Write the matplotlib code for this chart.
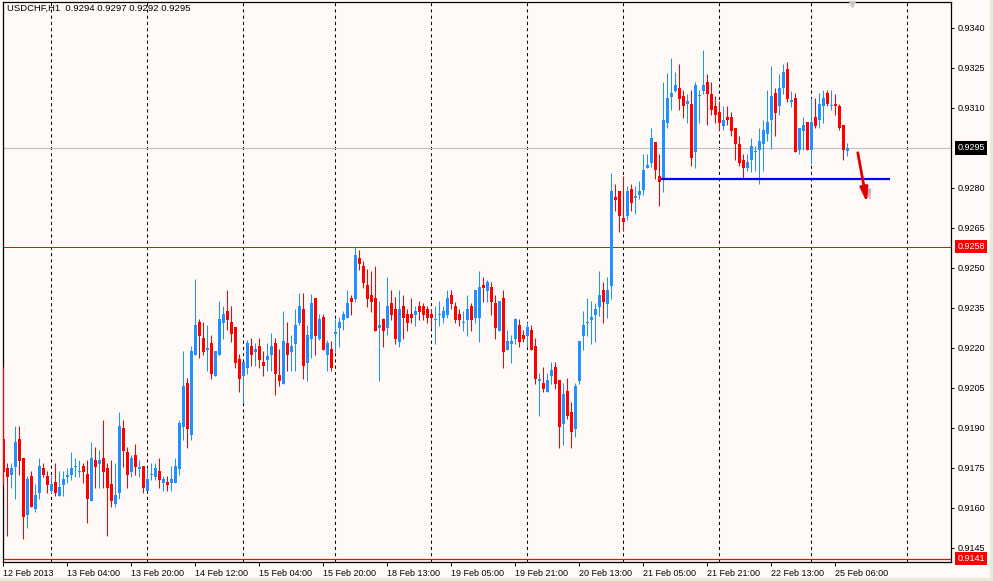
import numpy as np
import matplotlib
matplotlib.use("Agg")
import matplotlib.pyplot as plt
import matplotlib.patheffects as pe
from matplotlib.patches import Rectangle

title_text = "USDCHF,H1  0.9294 0.9297 0.9292 0.9295"

# hourly bars, 12 Feb 2013 12:00 ... 25 Feb 2013 09:00
opens = [
    0.91859, 0.91750, 0.91725, 0.91755, 0.91859, 0.91788, 0.91575, 0.91720, 0.91598, 0.91658,
    0.91750, 0.91720, 0.91665, 0.91698, 0.91646, 0.91688, 0.91718, 0.91725, 0.91755, 0.91736,
    0.91758, 0.91728, 0.91628, 0.91780, 0.91766, 0.91788, 0.91750, 0.91690, 0.91616, 0.91658,
    0.91900, 0.91810, 0.91736, 0.91799, 0.91748, 0.91758, 0.91665, 0.91725, 0.91718, 0.91739,
    0.91695, 0.91698, 0.91695, 0.91695, 0.91746, 0.91904, 0.92069, 0.91874, 0.92174, 0.92298,
    0.92238, 0.92194, 0.92219, 0.92096, 0.92174, 0.92295, 0.92339, 0.92298, 0.92279, 0.92159,
    0.92096, 0.92126, 0.92208, 0.92186, 0.92208, 0.92148, 0.92156, 0.92174, 0.92219, 0.92099,
    0.92066, 0.92219, 0.92186, 0.92216, 0.92295, 0.92346, 0.92145, 0.92235, 0.92388, 0.92235,
    0.92316, 0.92174, 0.92196, 0.92254, 0.92275, 0.92305, 0.92313, 0.92388, 0.92384, 0.92538,
    0.92508, 0.92436, 0.92399, 0.92388, 0.92275, 0.92309, 0.92275, 0.92369, 0.92346, 0.92224,
    0.92358, 0.92328, 0.92328, 0.92324, 0.92358, 0.92358, 0.92346, 0.92328, 0.92305, 0.92324,
    0.92313, 0.92324, 0.92399, 0.92358, 0.92328, 0.92295, 0.92305, 0.92358, 0.92313, 0.92313,
    0.92436, 0.92414, 0.92429, 0.92369, 0.92264, 0.92388, 0.92194, 0.92216, 0.92234, 0.92286,
    0.92249, 0.92246, 0.92268, 0.92208, 0.92078, 0.92069, 0.92036, 0.92096, 0.92129, 0.92080,
    0.91916, 0.92040, 0.91960, 0.91898, 0.92078, 0.92246, 0.92295, 0.92306, 0.92325, 0.92355,
    0.92418, 0.92366, 0.92434, 0.92766, 0.92789, 0.92688, 0.92696, 0.92796, 0.92764, 0.92775,
    0.92793, 0.92873, 0.92895, 0.92971, 0.92845, 0.92835, 0.93045, 0.93140, 0.93164, 0.93175,
    0.93145, 0.93114, 0.93115, 0.92933, 0.93144, 0.93164, 0.93198, 0.93153, 0.93108, 0.93085,
    0.93033, 0.93066, 0.93066, 0.93025, 0.92963, 0.92905, 0.92873, 0.92903, 0.92934, 0.92943,
    0.92963, 0.93003, 0.93053, 0.93156, 0.93108, 0.93173, 0.93246, 0.93124, 0.93138, 0.92943,
    0.93015, 0.93048, 0.92943, 0.93065, 0.93053, 0.93108, 0.93155, 0.93106, 0.93115, 0.93108,
    0.93036, 0.92940,
]
highs = [
    0.92130, 0.91770, 0.91770, 0.91909, 0.91909, 0.91788, 0.91720, 0.91739, 0.91690, 0.91788,
    0.91769, 0.91739, 0.91725, 0.91769, 0.91739, 0.91739, 0.91750, 0.91810, 0.91788, 0.91780,
    0.91769, 0.91780, 0.91848, 0.91829, 0.91818, 0.91930, 0.91769, 0.91780, 0.91769, 0.91960,
    0.91930, 0.91829, 0.91799, 0.91840, 0.91780, 0.91758, 0.91750, 0.91769, 0.91769, 0.91788,
    0.91720, 0.91720, 0.91758, 0.91788, 0.91930, 0.92189, 0.92088, 0.92208, 0.92459, 0.92309,
    0.92298, 0.92286, 0.92249, 0.92189, 0.92376, 0.92358, 0.92418, 0.92358, 0.92279, 0.92178,
    0.92149, 0.92230, 0.92238, 0.92219, 0.92238, 0.92189, 0.92219, 0.92256, 0.92238, 0.92196,
    0.92339, 0.92298, 0.92249, 0.92346, 0.92406, 0.92406, 0.92286, 0.92403, 0.92388, 0.92328,
    0.92328, 0.92230, 0.92226, 0.92309, 0.92316, 0.92339, 0.92418, 0.92399, 0.92580, 0.92568,
    0.92526, 0.92496, 0.92489, 0.92508, 0.92376, 0.92313, 0.92466, 0.92418, 0.92391, 0.92418,
    0.92399, 0.92346, 0.92388, 0.92358, 0.92376, 0.92369, 0.92358, 0.92346, 0.92358, 0.92376,
    0.92358, 0.92418, 0.92418, 0.92373, 0.92346, 0.92339, 0.92399, 0.92369, 0.92418, 0.92489,
    0.92466, 0.92455, 0.92448, 0.92399, 0.92376, 0.92418, 0.92268, 0.92249, 0.92313, 0.92309,
    0.92268, 0.92298, 0.92286, 0.92238, 0.92106, 0.92129, 0.92106, 0.92148, 0.92148, 0.92080,
    0.92069, 0.92088, 0.91998, 0.92069, 0.92226, 0.92339, 0.92388, 0.92376, 0.92369, 0.92489,
    0.92448, 0.92466, 0.92856, 0.92815, 0.92789, 0.92845, 0.92808, 0.92815, 0.92808, 0.92826,
    0.92928, 0.92928, 0.93024, 0.92971, 0.92928, 0.93198, 0.93230, 0.93288, 0.93235, 0.93265,
    0.93168, 0.93153, 0.93168, 0.93198, 0.93168, 0.93318, 0.93228, 0.93198, 0.93145, 0.93126,
    0.93108, 0.93108, 0.93085, 0.93025, 0.92993, 0.92928, 0.92928, 0.92988, 0.92958, 0.93025,
    0.93055, 0.93168, 0.93258, 0.93175, 0.93228, 0.93265, 0.93273, 0.93164, 0.93155, 0.93025,
    0.93066, 0.93048, 0.93138, 0.93138, 0.93155, 0.93168, 0.93168, 0.93168, 0.93153, 0.93115,
    0.93036, 0.92970,
]
lows = [
    0.91686, 0.91496, 0.91676, 0.91634, 0.91725, 0.91483, 0.91526, 0.91605, 0.91586, 0.91634,
    0.91718, 0.91658, 0.91658, 0.91646, 0.91646, 0.91646, 0.91695, 0.91706, 0.91718, 0.91718,
    0.91695, 0.91545, 0.91628, 0.91676, 0.91676, 0.91676, 0.91496, 0.91605, 0.91605, 0.91634,
    0.91755, 0.91676, 0.91718, 0.91725, 0.91718, 0.91658, 0.91665, 0.91706, 0.91706, 0.91676,
    0.91665, 0.91665, 0.91665, 0.91695, 0.91724, 0.91855, 0.91825, 0.91855, 0.92174, 0.92164,
    0.92174, 0.92115, 0.92085, 0.92096, 0.92174, 0.92235, 0.92268, 0.92224, 0.92126, 0.92036,
    0.91995, 0.92104, 0.92134, 0.92134, 0.92126, 0.92096, 0.92115, 0.92115, 0.92025, 0.92059,
    0.92066, 0.92115, 0.92115, 0.92115, 0.92286, 0.92085, 0.92078, 0.92164, 0.92174, 0.92230,
    0.92194, 0.92115, 0.92115, 0.92186, 0.92205, 0.92268, 0.92313, 0.92324, 0.92373, 0.92493,
    0.92425, 0.92354, 0.92335, 0.92264, 0.92078, 0.92205, 0.92249, 0.92305, 0.92216, 0.92205,
    0.92234, 0.92264, 0.92294, 0.92283, 0.92305, 0.92305, 0.92294, 0.92275, 0.92216, 0.92283,
    0.92294, 0.92313, 0.92346, 0.92294, 0.92283, 0.92264, 0.92246, 0.92264, 0.92294, 0.92224,
    0.92373, 0.92373, 0.92324, 0.92234, 0.92264, 0.92126, 0.92194, 0.92145, 0.92216, 0.92205,
    0.92224, 0.92205, 0.92194, 0.92066, 0.91946, 0.92036, 0.92036, 0.92065, 0.92046, 0.91826,
    0.91838, 0.91935, 0.91826, 0.91868, 0.92066, 0.92194, 0.92246, 0.92216, 0.92224, 0.92318,
    0.92295, 0.92314, 0.92385, 0.92714, 0.92636, 0.92639, 0.92680, 0.92714, 0.92704, 0.92760,
    0.92775, 0.92873, 0.92880, 0.92835, 0.92734, 0.92786, 0.93024, 0.93093, 0.93160, 0.93093,
    0.93064, 0.93044, 0.92884, 0.92873, 0.93044, 0.93153, 0.93036, 0.93074, 0.93044, 0.93018,
    0.93018, 0.93036, 0.92993, 0.92903, 0.92884, 0.92835, 0.92864, 0.92861, 0.92865, 0.92813,
    0.92865, 0.92975, 0.92945, 0.92993, 0.93074, 0.93153, 0.93123, 0.93105, 0.92933, 0.92926,
    0.92943, 0.92943, 0.92890, 0.93023, 0.93023, 0.93044, 0.93108, 0.93093, 0.93074, 0.93018,
    0.92903, 0.92920,
]
closes = [
    0.91736, 0.91718, 0.91750, 0.91848, 0.91778, 0.91568, 0.91709, 0.91605, 0.91649, 0.91758,
    0.91725, 0.91688, 0.91690, 0.91658, 0.91679, 0.91709, 0.91720, 0.91750, 0.91758, 0.91739,
    0.91736, 0.91634, 0.91788, 0.91755, 0.91780, 0.91736, 0.91676, 0.91628, 0.91649, 0.91909,
    0.91815, 0.91725, 0.91788, 0.91755, 0.91750, 0.91676, 0.91709, 0.91728, 0.91750, 0.91706,
    0.91709, 0.91686, 0.91709, 0.91758, 0.91919, 0.92058, 0.91896, 0.92189, 0.92286, 0.92246,
    0.92186, 0.92196, 0.92104, 0.92189, 0.92309, 0.92328, 0.92306, 0.92254, 0.92145, 0.92085,
    0.92148, 0.92219, 0.92174, 0.92196, 0.92153, 0.92134, 0.92168, 0.92208, 0.92104, 0.92078,
    0.92226, 0.92174, 0.92208, 0.92286, 0.92358, 0.92134, 0.92249, 0.92369, 0.92246, 0.92309,
    0.92194, 0.92219, 0.92126, 0.92256, 0.92298, 0.92328, 0.92369, 0.92373, 0.92549, 0.92515,
    0.92444, 0.92384, 0.92373, 0.92264, 0.92286, 0.92264, 0.92358, 0.92324, 0.92234, 0.92346,
    0.92313, 0.92294, 0.92313, 0.92339, 0.92335, 0.92324, 0.92313, 0.92313, 0.92309, 0.92328,
    0.92339, 0.92388, 0.92365, 0.92305, 0.92305, 0.92299, 0.92346, 0.92305, 0.92418, 0.92429,
    0.92425, 0.92448, 0.92373, 0.92275, 0.92376, 0.92186, 0.92226, 0.92226, 0.92309, 0.92224,
    0.92234, 0.92279, 0.92194, 0.92085, 0.92080, 0.92046, 0.92080, 0.92118, 0.92066, 0.91905,
    0.92028, 0.91946, 0.91886, 0.92058, 0.92226, 0.92286, 0.92298, 0.92316, 0.92346, 0.92399,
    0.92374, 0.92418, 0.92789, 0.92756, 0.92696, 0.92674, 0.92789, 0.92745, 0.92766, 0.92789,
    0.92868, 0.92885, 0.92988, 0.92868, 0.92824, 0.93055, 0.93138, 0.93155, 0.93186, 0.93135,
    0.93108, 0.93126, 0.92914, 0.93186, 0.93146, 0.93186, 0.93153, 0.93093, 0.93074, 0.93045,
    0.93055, 0.93055, 0.93015, 0.92963, 0.92895, 0.92876, 0.92898, 0.92958, 0.92936, 0.92976,
    0.93018, 0.93048, 0.93145, 0.93081, 0.93175, 0.93235, 0.93134, 0.93126, 0.92933, 0.93025,
    0.93036, 0.92943, 0.93048, 0.93034, 0.93115, 0.93138, 0.93114, 0.93109, 0.93108, 0.93023,
    0.92944, 0.92950,
]

tick_bars = [0, 16, 32, 48, 64, 80, 96, 112, 128, 144, 160, 176, 192, 208]
tick_labels = ["12 Feb 2013", "13 Feb 04:00", "13 Feb 20:00", "14 Feb 12:00",
               "15 Feb 04:00", "15 Feb 20:00", "18 Feb 13:00", "19 Feb 05:00",
               "19 Feb 21:00", "20 Feb 13:00", "21 Feb 05:00", "21 Feb 21:00",
               "22 Feb 13:00", "25 Feb 06:00"]
day_bars = [12, 36, 60, 83, 107, 131, 155, 179, 202, 226]
price_ticks = [0.9145, 0.9160, 0.9175, 0.9190, 0.9205, 0.9220, 0.9235,
               0.9250, 0.9265, 0.9280, 0.9310, 0.9325, 0.9340]

bid_price = 0.9295
red_level = 0.9258
low_level = 0.9141
support_level = 0.92835
support_span = (164.5, 221.7)
arrow_start = (213.6, 0.92932)
arrow_end = (215.9, 0.92744)

BG = "#fffaf8"
BULL = "#1e90ff"
BEAR = "#ff0000"

plt.rcParams['font.family'] = ['Liberation Sans', 'DejaVu Sans']
plt.rcParams['font.size'] = 6.5

fig = plt.figure(figsize=(9.93, 5.81), dpi=100, facecolor=BG)
W, H = 993.0, 581.0
ax = fig.add_axes([2.5 / W, 1 - 562 / H, (951 - 2.5) / W, (562 - 1.5) / H])
ax.set_facecolor(BG)

o = np.array(opens)
h = np.array(highs)
l = np.array(lows)
c = np.array(closes)
x = np.arange(len(o))
up = c >= o
cols = np.where(up, BULL, BEAR)

# grid: dashed day separators
for d in day_bars:
    ax.axvline(d, color="black", lw=0.75, ls=(0, (3, 3)), zorder=1)

ax.axhline(bid_price, color="#c0c0c0", lw=0.8, zorder=1)
ax.axhline(red_level, color="#ff0000", lw=0.7, zorder=1)
ax.axhline(low_level, color="#ff0000", lw=0.9, zorder=1)

ax.vlines(x, l, h, colors=cols, lw=0.75, zorder=3)
body_bottom = np.minimum(o, c)
body_height = np.maximum(np.abs(c - o), 0.00004)
ax.bar(x, body_height, bottom=body_bottom, width=0.75, color=cols,
       linewidth=0, zorder=4)

ax.hlines(support_level, support_span[0], support_span[1], color="#0000ff",
          lw=1.6, zorder=5)

ax.annotate("", xy=arrow_end, xytext=arrow_start,
            arrowprops=dict(arrowstyle="-|>,head_length=1.3,head_width=0.35",
                            color="#e00000", lw=2.0, shrinkA=0, shrinkB=0,
                            path_effects=[pe.SimplePatchShadow(offset=(3, -2),
                                                               alpha=0.3),
                                          pe.Normal()]),
            zorder=6)

ax.set_xlim(-0.2, 236.9)
ax.set_ylim(0.913975, 0.93499)

ax.yaxis.tick_right()
ax.set_yticks(price_ticks)
ax.set_yticklabels(["%.4f" % p for p in price_ticks])
ax.tick_params(axis="y", direction="out", length=2.5, width=0.7, pad=2.5,
               colors="black")

ax.set_xticks(tick_bars)
ax.set_xticklabels(tick_labels, ha="left")
ax.tick_params(axis="x", direction="out", length=3, width=0.7, pad=2,
               colors="black")

for sp in ax.spines.values():
    sp.set_color("black")
    sp.set_linewidth(0.9)

# price labels on the right scale
trans = ax.get_yaxis_transform()
for price, face in [(bid_price, "black"), (red_level, "#ff0000"), (low_level, "#ff0000")]:
    ax.text(1.0065, price, "%.4f" % price, transform=trans, ha="left",
            va="center", color="white", fontsize=6.5, clip_on=False,
            bbox=dict(boxstyle="square,pad=0.25", fc=face, ec="none"))

ax.text(5 / 948.5, 1 - 7 / 560.5, title_text, transform=ax.transAxes,
        ha="left", va="center", fontsize=6.8, color="black")

# chart shift marker
ax.plot([0.8956], [0.996], marker="v", ms=5, color="#c8c8c8", mec="#c8c8c8",
        transform=ax.transAxes, clip_on=False, zorder=7)

fig.patches.append(Rectangle((990 / W, 0), 3 / W, 1, transform=fig.transFigure,
                             color="#ece9d8", zorder=0))
fig.patches.append(Rectangle((0, 0), 1, 3 / H, transform=fig.transFigure,
                             color="#ece9d8", zorder=0))

fig.savefig("out.png", dpi=100, facecolor=BG)
